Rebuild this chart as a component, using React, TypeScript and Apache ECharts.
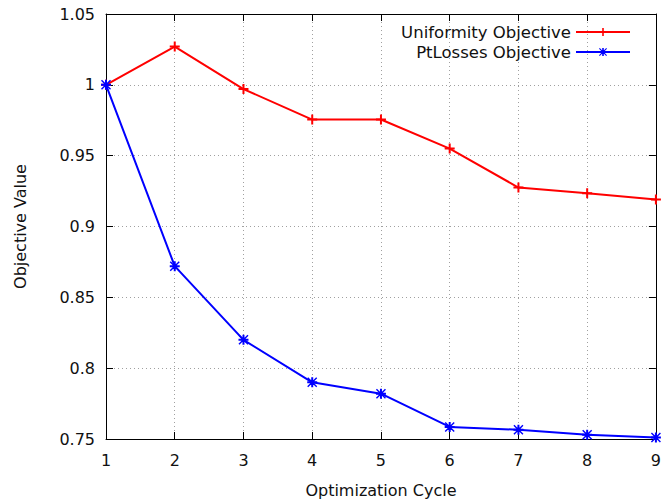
import React, { useEffect, useRef } from "react";
import * as echarts from "echarts";

const cycles = [1, 2, 3, 4, 5, 6, 7, 8, 9];
const uniformity = [1.0, 1.027, 0.997, 0.9755, 0.9755, 0.955, 0.9275, 0.9235, 0.919];
const ptLosses = [1.0, 0.872, 0.82, 0.79, 0.782, 0.7585, 0.7565, 0.753, 0.751];
const seriesNames = ["Uniformity Objective", "PtLosses Objective"];

const plusPath = "path://M4,0L6,0L6,4L10,4L10,6L6,6L6,10L4,10L4,6L0,6L0,4L4,4Z";
const starPath =
  "path://M4,0L6,0L6,4L10,4L10,6L6,6L6,10L4,10L4,6L0,6L0,4L4,4Z M1,0L5,4L9,0L10,1L6,5L10,9L9,10L5,6L1,10L0,9L4,5L0,1Z";

const font = "DejaVu Sans";
const txt = "#111";

export default function App() {
  const ref = useRef<HTMLDivElement>(null);
  useEffect(() => {
    if (!ref.current) return;
    const chart = echarts.init(ref.current, undefined, { renderer: "svg" });
    const splitLine = { show: true, lineStyle: { color: "#a0a0a0", type: [1, 3] as any, width: 1 } };
    chart.setOption({
      animation: false,
      backgroundColor: "#ffffff",
      textStyle: { fontFamily: font },
      grid: { left: 106, right: 8, top: 14, bottom: 65 },
      legend: {
        orient: "vertical",
        align: "right",
        right: 28,
        top: 18,
        itemWidth: 54,
        itemHeight: 10,
        itemGap: 2,
        textStyle: { fontFamily: font, fontSize: 16.5, color: txt, lineHeight: 18 },
        data: seriesNames,
      },
      xAxis: [
        {
          type: "value",
          min: 1,
          max: 9,
          interval: 1,
          name: "Optimization Cycle",
          nameLocation: "middle",
          nameGap: 43,
          nameTextStyle: { fontFamily: font, fontSize: 16, color: txt },
          axisLine: { show: true, lineStyle: { color: "#000", width: 1 } },
          axisTick: { show: true, inside: true, length: 7, lineStyle: { color: "#000" } },
          axisLabel: { fontFamily: font, fontSize: 16, color: txt, margin: 13 },
          splitLine,
        },
        {
          type: "value",
          min: 1,
          max: 9,
          interval: 1,
          position: "top",
          axisLine: { show: true, lineStyle: { color: "#000", width: 1 } },
          axisTick: { show: true, inside: true, length: 7, lineStyle: { color: "#000" } },
          axisLabel: { show: false },
          splitLine: { show: false },
        },
      ],
      yAxis: [
        {
          type: "value",
          min: 0.75,
          max: 1.05,
          interval: 0.05,
          name: "Objective Value",
          nameLocation: "middle",
          nameGap: 78,
          nameTextStyle: { fontFamily: font, fontSize: 16, color: txt },
          axisLine: { show: true, lineStyle: { color: "#000", width: 1 } },
          axisTick: { show: true, inside: true, length: 7, lineStyle: { color: "#000" } },
          axisLabel: {
            fontFamily: font,
            fontSize: 16,
            color: txt,
            margin: 11,
            formatter: (v: number) => String(Math.round(v * 100) / 100),
          },
          splitLine,
        },
        {
          type: "value",
          min: 0.75,
          max: 1.05,
          interval: 0.05,
          position: "right",
          axisLine: { show: true, lineStyle: { color: "#000", width: 1 } },
          axisTick: { show: true, inside: true, length: 7, lineStyle: { color: "#000" } },
          axisLabel: { show: false },
          splitLine: { show: false },
        },
      ],
      series: [
        {
          name: seriesNames[0],
          type: "line",
          data: cycles.map((c, i) => [c, uniformity[i]]),
          symbol: plusPath,
          symbolSize: 10,
          showAllSymbol: true,
          lineStyle: { color: "#ff0000", width: 2 },
          itemStyle: { color: "#ff0000" },
        },
        {
          name: seriesNames[1],
          type: "line",
          data: cycles.map((c, i) => [c, ptLosses[i]]),
          symbol: starPath,
          symbolSize: 10,
          showAllSymbol: true,
          lineStyle: { color: "#0000ff", width: 2 },
          itemStyle: { color: "#0000ff" },
        },
      ],
    });
    return () => chart.dispose();
  }, []);
  return <div ref={ref} style={{ width: 664, height: 504, position: "absolute", left: 0, top: 0 }} />;
}
